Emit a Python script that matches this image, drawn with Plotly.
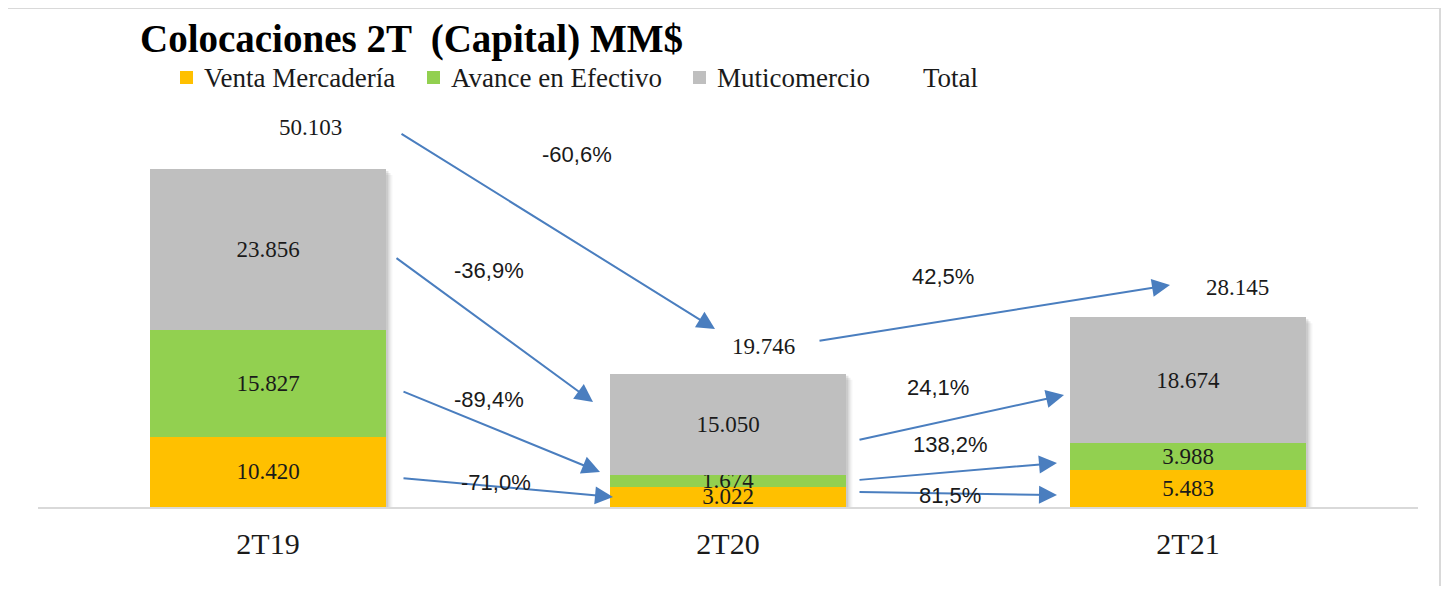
import plotly.graph_objects as go

# ---------------- data ----------------
categories = ["2T19", "2T20", "2T21"]
venta_mercaderia = [10420, 3022, 5483]
avance_efectivo = [15827, 1674, 3988]
muticomercio = [23856, 15050, 18674]
total = [50103, 19746, 28145]
series_names = ["Venta Mercadería", "Avance en Efectivo", "Muticomercio", "Total"]
# variation labels (as shown): 2T19->2T20 then 2T20->2T21, order: total, muti, avance, venta
var_labels_1 = ["-60,6%", "-36,9%", "-89,4%", "-71,0%"]
var_labels_2 = ["42,5%", "24,1%", "138,2%", "81,5%"]

# ---------------- styles / layout geometry ----------------
OFF = 8                      # page body margin
FW, FH = 1449 - 2 * OFF, 594 - 2 * OFF
ML, MR, MT = 38 - OFF, 23, 100 - OFF
PLOT_BOTTOM = 507 - OFF
MB = FH - PLOT_BOTTOM
PW, PH = FW - ML - MR, FH - MT - MB
BAR_W = 0.515
colors = ["#FFC000", "#92D050", "#BFBFBF"]
arrow_color = "#4A7EBF"
text_color = "#1a1a1a"
serif = "Liberation Serif"
sans = "Liberation Sans"


def px(x, y):
    """reference-page pixel -> plot-domain fraction"""
    return (x - OFF - ML) / PW, (PLOT_BOTTOM - (y - OFF)) / PH


ymax = PH / (338 / total[0])

fig = go.Figure()
for name, vals, col in zip(series_names[:3], [venta_mercaderia, avance_efectivo, muticomercio], colors):
    fig.add_trace(go.Bar(
        x=categories, y=vals, name=name, marker=dict(color=col, line=dict(width=0)),
        width=BAR_W, texttemplate="%{y:,.0f}", textposition="inside",
        insidetextanchor="middle", textfont=dict(family=serif, size=23, color=text_color),
        hoverinfo="skip", showlegend=False,
    ))
fig.add_trace(go.Scatter(
    x=categories, y=total, name=series_names[3], mode="lines",
    line=dict(color="rgba(0,0,0,0)", width=0), hoverinfo="skip", showlegend=False,
))

# soft drop shadow behind each stacked bar
half_w = BAR_W / 2 * PW / 3
for i, v in enumerate(total):
    hpx = v * PH / ymax
    for dx, dy, alpha in [(2, 2, 0.10), (4, 4, 0.07), (6, 6, 0.04)]:
        fig.add_shape(type="rect", layer="below", xref="x", yref="y",
                      xsizemode="pixel", ysizemode="pixel", xanchor=i, yanchor=0,
                      x0=-half_w + dx, x1=half_w + dx, y0=-dy, y1=hpx - dy,
                      fillcolor=f"rgba(0,0,0,{alpha})", line=dict(width=0))

# total labels (offset from the top of each stack)
total_shift = [(42, 42), (35, 27), (49, 30)]
for i, (c, v) in enumerate(zip(categories, total)):
    fig.add_annotation(x=i, y=v, xref="x", yref="y", text=f"{v:,}".replace(",", "."),
                       showarrow=False, xshift=total_shift[i][0], yshift=total_shift[i][1],
                       yanchor="middle",
                       font=dict(family=serif, size=23, color=text_color))

# arrows (tail -> head), reference pixel geometry
arrows_1 = [((400, 133), (715, 329)), ((395, 257), (593, 402)),
            ((402, 391), (600, 472)), ((402, 478), (613, 497))]
arrows_2 = [((818, 341), (1170, 285)), ((858, 440), (1064, 395)),
            ((858, 480), (1057, 463)), ((858, 492), (1057, 495))]
label_pos_1 = [(577, 155), (489, 270), (489, 399), (496, 482)]
label_pos_2 = [(943, 276), (938, 387), (950, 444), (950, 495)]

for arrows, labels, lpos in [(arrows_1, var_labels_1, label_pos_1), (arrows_2, var_labels_2, label_pos_2)]:
    for (t, h), lab, lp in zip(arrows, labels, lpos):
        hx, hy = px(*h)
        tx, ty = px(*t)
        fig.add_annotation(x=hx, y=hy, ax=tx, ay=ty, xref="x domain", yref="y domain",
                           axref="x domain", ayref="y domain", text="", showarrow=True,
                           arrowhead=2, arrowsize=1.8, arrowwidth=2, arrowcolor=arrow_color,
                           standoff=0, startstandoff=0)
        lx, ly = px(*lp)
        fig.add_annotation(x=lx, y=ly, xref="x domain", yref="y domain", text=lab,
                           showarrow=False, xanchor="center", yanchor="middle",
                           font=dict(family=sans, size=22, color=text_color))

# legend (drawn manually to match spacing)
legend_text_x = [202, 449, 715, 921]
legend_y = 78
for i, name in enumerate(series_names):
    tx, ty = px(legend_text_x[i], legend_y)
    fig.add_annotation(x=tx, y=ty, xref="x domain", yref="y domain", text=name,
                       showarrow=False, xanchor="left", yanchor="middle",
                       font=dict(family=serif, size=27, color=text_color))
    if i < 3:
        x0, y0 = px(legend_text_x[i] - 22, legend_y + 6)
        x1, y1 = px(legend_text_x[i] - 9, legend_y - 7)
        fig.add_shape(type="rect", xref="x domain", yref="y domain", x0=x0, x1=x1, y0=y0, y1=y1,
                      fillcolor=colors[i], line=dict(width=0))

# outer frame
fx0, fy0 = px(7, 600)
fx1, fy1 = px(1440, 8)
fig.add_shape(type="rect", xref="x domain", yref="y domain", x0=fx0, x1=fx1, y0=fy0, y1=fy1,
              line=dict(color="#D9D9D9", width=2), fillcolor="rgba(0,0,0,0)", layer="below")

fig.update_layout(
    width=FW, height=FH,
    margin=dict(l=ML, r=MR, t=MT, b=MB, pad=0),
    paper_bgcolor="white", plot_bgcolor="white",
    barmode="stack", bargap=0.485,
    separators=",.",
    uniformtext=dict(minsize=23, mode="show"),
    title=dict(text="<b>Colocaciones 2T \u00a0(Capital) MM$</b>", x=(140 - OFF) / FW, xanchor="left",
               xref="container", yref="container", y=1 - (38 - OFF) / FH, yanchor="middle",
               font=dict(family=serif, size=39, color="black")),
    xaxis=dict(range=[-0.5, 2.5], showline=True, linecolor="#D9D9D9", linewidth=2,
               showgrid=False, zeroline=False, ticks="", ticklabelstandoff=9,
               tickfont=dict(family=serif, size=30, color=text_color)),
    yaxis=dict(range=[0, ymax], visible=False, showgrid=False, zeroline=False),
    showlegend=False,
)

fig.write_html("out.html")
